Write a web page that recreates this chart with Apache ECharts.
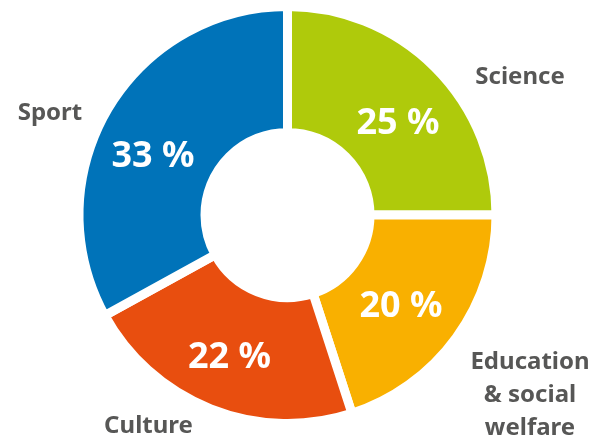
<!DOCTYPE html>
<html>
<head>
<meta charset="utf-8">
<script src="https://cdn.jsdelivr.net/npm/echarts@6/dist/echarts.min.js"></script>
<style>
  html, body { margin: 0; padding: 0; background: #fff; }
  #chart { width: 607px; height: 440px; }
</style>
</head>
<body>
<div id="chart"></div>
<script>
// data, clockwise from 12 o'clock
const categories = ['Science', 'Education\n& social\nwelfare', 'Culture', 'Sport'];
const shares = [25, 20, 22, 33];
const sliceColors = ['#afca0b', '#f9b000', '#e84e0f', '#0073b9'];

// label spots (centre of the text)
const percentSpots = [[398, 123.5], [401, 307], [229.5, 357.5], [153, 157]];
const nameSpots = [[520, 77], [530, 395], [148.5, 426], [50, 113]];

const chart = echarts.init(document.getElementById('chart'));

const pieData = categories.map((name, i) => ({
  name: name,
  value: shares[i],
  itemStyle: { color: sliceColors[i] }
}));

const center = [287.5, 215];
const radius = [82.5, 208.5];

chart.setOption({
  animation: false,
  series: [
    {
      // slices + percent labels
      type: 'pie',
      center: center,
      radius: radius,
      startAngle: 90,
      clockwise: true,
      silent: true,
      data: pieData,
      itemStyle: {
        borderColor: '#fff',
        borderWidth: 9
      },
      label: {
        show: true,
        position: 'inside',
        formatter: '{c} %',
        color: '#fff',
        fontFamily: 'Noto Sans',
        fontWeight: 'bold',
        fontSize: 36,
        overflow: 'none'
      },
      labelLine: { show: false },
      labelLayout: function (p) {
        const spot = percentSpots[p.dataIndex];
        return { x: spot[0], y: spot[1], align: 'center', verticalAlign: 'middle' };
      },
      emphasis: { disabled: true }
    },
    {
      // same slices again, invisible, only to carry the category names
      type: 'pie',
      center: center,
      radius: radius,
      startAngle: 90,
      clockwise: true,
      silent: true,
      data: categories.map((name, i) => ({ name: name, value: shares[i] })),
      itemStyle: { color: 'transparent' },
      label: {
        show: true,
        position: 'outside',
        formatter: '{b}',
        color: '#575756',
        fontFamily: 'Noto Sans',
        fontWeight: 'bold',
        fontSize: 24,
        lineHeight: 33,
        align: 'center',
        overflow: 'none'
      },
      labelLine: { show: false },
      labelLayout: function (p) {
        const spot = nameSpots[p.dataIndex];
        return { x: spot[0], y: spot[1], align: 'center', verticalAlign: 'middle' };
      },
      emphasis: { disabled: true }
    }
  ]
});
</script>
</body>
</html>
